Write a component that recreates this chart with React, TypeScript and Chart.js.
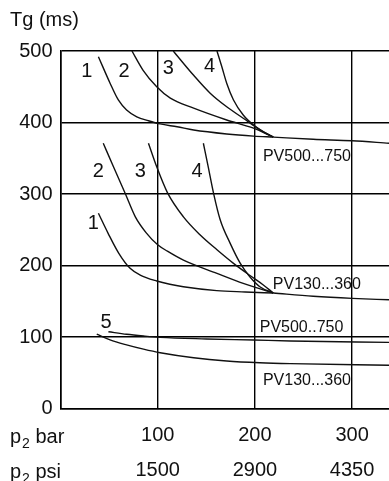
import React, { useEffect, useRef } from 'react';
import { Chart, registerables } from 'chart.js';

Chart.register(...registerables);

const FONT = '"Liberation Sans", Arial, Helvetica, sans-serif';
const INK = '#111111';

// Axis ticks
const barValues = [100, 200, 300];
const barLabels = ['100', '200', '300'];
const psiLabels = ['1500', '2900', '4350'];
const axisRowNames = ['bar', 'psi'];

// Upper group (PV500...750)
const u1X = [39, 51, 59.5, 68, 78.5, 90.5, 102.5, 120, 137, 171, 198.6, 219];
const u1Y = [492, 455, 431.5, 417.5, 408, 402.5, 398, 394, 389.5, 384, 381, 379.5];
const u2X = [73.5, 85, 99, 113, 137, 171, 198.6, 219];
const u2Y = [500, 473, 450, 434, 420, 403.5, 392, 379.5];
const u3X = [116, 137, 154, 171, 188, 205, 219];
const u3Y = [500, 466, 441, 422, 406, 390, 379.5];
const u4X = [161, 166, 171, 178, 188, 198.6, 210, 219];
const u4Y = [500, 478, 455, 431.5, 410.5, 396.5, 386, 379.5];
const uTailX = [219, 260, 300, 338];
const uTailY = [379.5, 376.5, 374.5, 371];

// Lower group (PV130...360)
const l1X = [39, 49, 60, 71.6, 82, 99, 112.5, 126.4, 160.8, 190, 219];
const l1Y = [273, 245, 217, 196, 186.7, 178.3, 173.7, 170.3, 164.8, 163, 161.5];
const l2X = [44, 54.5, 66.5, 77, 88, 100, 110, 126.5, 161, 188, 219];
const l2Y = [371, 338, 301, 268, 246, 229, 220, 207.5, 189, 175, 161.5];
const l3X = [90.5, 99, 110, 126.5, 143.5, 161, 178, 195, 208, 219];
const l3Y = [371, 338, 302, 268, 243, 222, 203, 186, 173.5, 161.5];
const l4X = [147, 152, 157.5, 164.3, 174.6, 185, 195, 205.5, 219];
const l4Y = [371, 338, 301, 264, 231, 203, 184, 170, 161.5];
const lTailX = [219, 260, 300, 338];
const lTailY = [161.5, 157, 154, 152];

// Bottom curves
const c5X = [49.3, 68, 85.4, 102.6, 150, 198.6, 236.5, 338];
const c5Y = [107.4, 103.8, 101.4, 99.5, 97.3, 95.8, 94.5, 92.5];
const c6X = [37.3, 51, 68, 85.4, 102.6, 137, 171, 205, 236.5, 338];
const c6Y = [104, 96, 89, 83, 78, 71, 66.5, 64, 62.7, 60.5];

// Curve number labels
const numText = ['1', '2', '3', '4', '2', '3', '4', '1', '5'];
const numX = [27, 65.5, 111, 153.3, 39, 82, 140.4, 33.8, 47];
const numY = [471, 471, 476, 478, 331, 331, 331, 259, 121];

// Series name labels
const nameText = ['PV500...750', 'PV130...360', 'PV500..750', 'PV130...360'];
const nameX = [253.6, 263.8, 248, 253.6];
const nameY = [351.8, 173.9, 113.3, 38.7];

const pts = (xs: number[], ys: number[]) => xs.map((x, i) => ({ x, y: ys[i] }));

const series = [
  [u1X, u1Y], [u2X, u2Y], [u3X, u3Y], [u4X, u4Y], [uTailX, uTailY],
  [l1X, l1Y], [l2X, l2Y], [l3X, l3Y], [l4X, l4Y], [lTailX, lTailY],
  [c5X, c5Y], [c6X, c6Y],
];

const textPlugin = {
  id: 'texts',
  afterDraw(chart: any) {
    const { ctx, scales, chartArea } = chart;
    const xs = scales.x;
    const ys = scales.y;
    ctx.save();
    ctx.fillStyle = INK;
    ctx.textAlign = 'center';
    ctx.textBaseline = 'middle';
    ctx.font = `20px ${FONT}`;
    numText.forEach((t, i) => {
      ctx.fillText(t, xs.getPixelForValue(numX[i]), ys.getPixelForValue(numY[i]));
    });
    ctx.font = `16px ${FONT}`;
    nameText.forEach((t, i) => {
      ctx.fillText(t, xs.getPixelForValue(nameX[i]), ys.getPixelForValue(nameY[i]));
    });
    // Title
    ctx.textAlign = 'left';
    ctx.textBaseline = 'alphabetic';
    ctx.font = `20px ${FONT}`;
    ctx.fillText('Tg (ms)', 10, 26);
    // Axis row names
    axisRowNames.forEach((name, i) => {
      const base = chartArea.bottom + 34 + i * 35;
      let x = 10;
      ctx.font = `20px ${FONT}`;
      ctx.fillText('p', x, base);
      x += ctx.measureText('p').width + 1;
      ctx.font = `14px ${FONT}`;
      ctx.fillText('2', x, base + 5);
      x += ctx.measureText('2').width;
      ctx.font = `20px ${FONT}`;
      ctx.fillText(' ' + name, x, base);
    });
    ctx.restore();
  },
};

export default function App() {
  const ref = useRef<HTMLCanvasElement | null>(null);
  useEffect(() => {
    if (!ref.current) return;
    const chart = new Chart(ref.current, {
      type: 'line',
      data: {
        datasets: series.map(([xs, ys]) => ({
          data: pts(xs, ys),
          borderColor: INK,
          borderWidth: 1.4,
          pointRadius: 0,
          fill: false,
          cubicInterpolationMode: 'monotone' as const,
        })),
      },
      options: {
        responsive: false,
        animation: false,
        events: [],
        layout: { padding: { top: 51, left: 0, right: 0, bottom: 0 } },
        plugins: { legend: { display: false }, tooltip: { enabled: false }, title: { display: false } },
        scales: {
          x: {
            type: 'linear',
            min: 0,
            max: 338,
            afterFit: (s: any) => { s.height = 72.5; },
            border: { display: true, color: '#000', width: 1.6 },
            grid: { color: '#000', lineWidth: 1.4, drawTicks: false },
            ticks: {
              stepSize: 100,
              includeBounds: false,
              maxRotation: 0,
              autoSkip: false,
              padding: 9,
              color: INK,
              font: { family: FONT, size: 20, lineHeight: 1.75 },
              callback: (v: any) => {
                const i = barValues.indexOf(Number(v));
                return i >= 0 ? [barLabels[i], psiLabels[i]] : '';
              },
            },
          },
          y: {
            type: 'linear',
            min: 0,
            max: 500,
            afterFit: (s: any) => { s.width = 60.5; },
            border: { display: true, color: '#000', width: 1.6 },
            grid: { color: '#000', lineWidth: 1.4, drawTicks: false },
            ticks: {
              stepSize: 100,
              padding: 8,
              color: INK,
              font: { family: FONT, size: 20 },
            },
          },
        },
      },
      plugins: [textPlugin],
    });
    return () => chart.destroy();
  }, []);
  return (
    <div style={{ position: 'fixed', left: 0, top: 0, width: 389, height: 481, background: '#fff' }}>
      <canvas ref={ref} width={389} height={481} />
    </div>
  );
}
